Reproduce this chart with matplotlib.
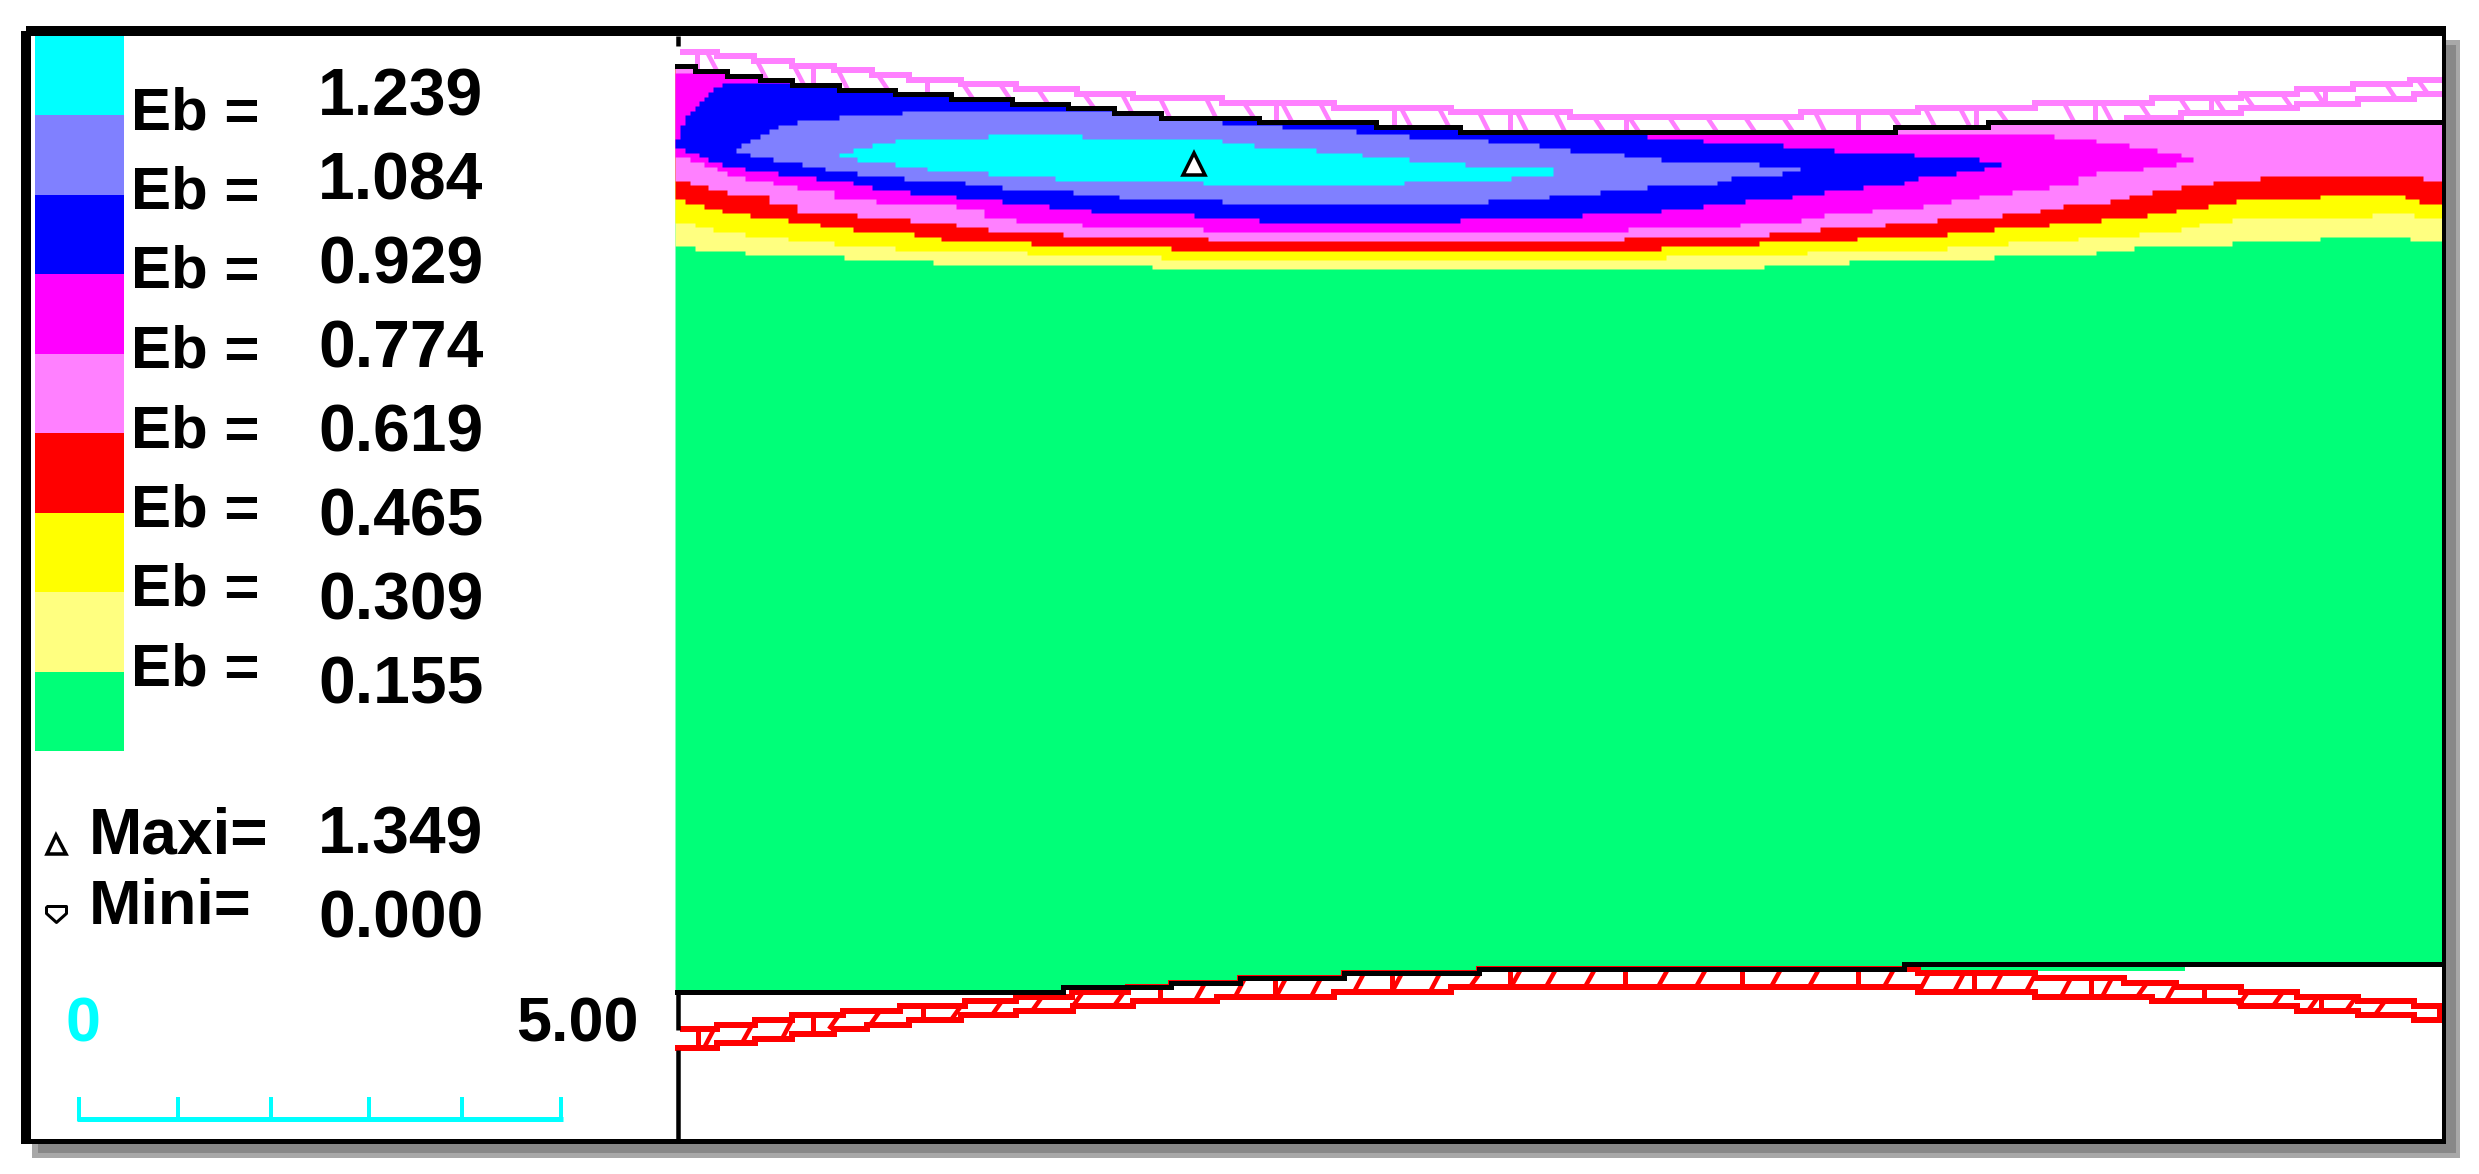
import numpy as np
import matplotlib
matplotlib.use('Agg')
import matplotlib.pyplot as plt
from matplotlib.patches import Rectangle

plt.rcParams['font.family'] = ['Liberation Sans', 'DejaVu Sans']

# legend
level_labels = ['1.239', '1.084', '0.929', '0.774', '0.619', '0.465', '0.309', '0.155']
level_colors = ['#00FFFF', '#8080FF', '#0000FF', '#FF00FF', '#FF80FF', '#FF0000', '#FFFF00', '#FFFF80', '#00FF78']
swatch_edges = [36, 115, 195, 274, 354, 433, 513, 592, 672, 751]
maxi_label = '1.349'
mini_label = '0.000'
scale_ticks = [79, 178, 271, 369, 462, 561]

# seam lines, picture coordinates
top_x = [675, 695, 727, 760, 792, 839, 895, 951, 1012, 1068, 1114, 1161, 1259, 1376, 1460, 1895, 1988, 2443]
top_y = [66, 71, 76, 80, 85, 90, 94, 99, 104, 108, 113, 118, 122, 127, 132, 127, 122]
bot_x = [675, 1063, 1171, 1240, 1344, 1479, 1904, 2443]
bot_y = [992, 987, 983, 978, 973, 969, 964]

# lower edge of each contour band
lyellow_x = [675, 695, 745, 844, 933, 1152, 1764, 1849, 1994, 2096, 2134, 2232, 2320, 2410, 2443]
lyellow_y = [246, 251, 255, 260, 265, 269, 265, 260, 255, 251, 246, 241, 237, 241]
yellow_x = [675, 695, 713, 745, 788, 834, 895, 1027, 1161, 1666, 1807, 1947, 2008, 2078, 2139, 2181, 2199, 2232, 2372, 2414, 2443]
yellow_y = [223, 227, 232, 237, 241, 246, 251, 255, 260, 255, 251, 246, 241, 237, 232, 227, 223, 218, 213, 218]
red_x = [675, 685, 704, 722, 750, 788, 820, 853, 914, 941, 1031, 1171, 1661, 1759, 1857, 1947, 1994, 2049, 2101, 2147, 2176, 2208, 2236, 2320, 2405, 2419, 2443]
red_y = [199, 204, 209, 213, 218, 223, 227, 232, 237, 241, 246, 251, 246, 241, 237, 232, 227, 223, 218, 213, 209, 204, 199, 195, 199, 204]
lpink_x = [675, 690, 708, 727, 769, 797, 857, 910, 956, 988, 1063, 1208, 1624, 1769, 1820, 1885, 1937, 2002, 2040, 2063, 2110, 2129, 2152, 2181, 2213, 2260, 2423, 2443]
lpink_y = [181, 185, 190, 195, 204, 213, 218, 223, 227, 232, 237, 241, 237, 232, 227, 223, 218, 213, 209, 204, 199, 195, 190, 185, 181, 176, 181]

# closed bands: upper and lower edge (0 = up to the seam line)
mag_up_x = [675, 695, 1895, 2054, 2096, 2129, 2157, 2181, 2194]
mag_up_y = [73, 0, 134, 139, 143, 148, 153, 157]
mag_lo_x = [675, 690, 704, 717, 727, 745, 773, 797, 834, 876, 956, 984, 1016, 1082, 1203, 1628, 1740, 1801, 1824, 1872, 1923, 1951, 1979, 2012, 2049, 2078, 2096, 2143, 2176, 2194]
mag_lo_y = [157, 162, 167, 171, 176, 181, 185, 190, 199, 204, 209, 218, 223, 227, 232, 227, 223, 218, 213, 209, 204, 199, 195, 190, 185, 176, 171, 167, 162]
blue_up_x = [675, 680, 685, 690, 695, 699, 704, 708, 713, 722, 792, 1647, 1703, 1783, 1834, 1914, 1979, 2002]
blue_up_y = [139, 125, 115, 111, 106, 101, 97, 92, 87, 83, 0, 139, 143, 148, 153, 157, 162]
blue_lo_x = [675, 685, 699, 708, 722, 745, 778, 816, 853, 872, 910, 956, 1002, 1049, 1091, 1194, 1259, 1460, 1582, 1661, 1703, 1745, 1792, 1824, 1863, 1904, 1918, 1956, 1984, 2002]
blue_lo_y = [148, 153, 157, 162, 167, 171, 176, 181, 185, 190, 195, 199, 204, 209, 213, 218, 223, 218, 213, 209, 204, 199, 195, 190, 185, 181, 176, 171, 167]
peri_up_x = [736, 741, 750, 760, 769, 778, 797, 839, 902, 1114, 1161, 1222, 1282, 1356, 1409, 1488, 1539, 1570, 1624, 1661, 1759, 1801]
peri_up_y = [148, 143, 139, 134, 129, 125, 120, 115, 111, 115, 120, 125, 129, 134, 139, 143, 148, 153, 157, 162, 167]
peri_lo_x = [736, 750, 773, 802, 825, 857, 904, 965, 1002, 1073, 1119, 1222, 1488, 1549, 1600, 1647, 1717, 1731, 1782, 1801]
peri_lo_y = [153, 157, 162, 167, 171, 176, 181, 185, 190, 195, 199, 204, 199, 195, 190, 185, 181, 176, 171]
cyan_up_x = [839, 853, 872, 895, 988, 1082, 1222, 1254, 1316, 1362, 1409, 1465, 1554]
cyan_up_y = [153, 148, 143, 139, 134, 139, 143, 148, 153, 157, 162, 167]
cyan_lo_x = [839, 857, 895, 927, 988, 1055, 1203, 1404, 1511, 1554]
cyan_lo_y = [157, 162, 167, 171, 176, 181, 185, 181, 176]

# hatched layers above and below the seam
pink_up_x = [680, 717, 754, 792, 834, 872, 909, 961, 1016, 1077, 1133, 1222, 1334, 1451, 1570, 1801, 1918, 2035, 2152, 2241, 2297, 2353, 2410, 2443]
pink_up_y = [52, 56, 61, 66, 70, 75, 80, 84, 89, 94, 98, 103, 108, 112, 117, 112, 108, 103, 98, 94, 89, 84, 80]
pink_lo_x = [2124, 2181, 2241, 2297, 2358, 2414, 2443]
pink_lo_y = [118, 113, 108, 104, 99, 94]
pink_bars = [697, 813, 927, 1276, 1394, 1510, 1626, 1858, 1976, 2095, 2211, 2325]
pink_diag = [712, 762, 799, 843, 883, 968, 1005, 1043, 1089, 1127, 1165, 1211, 1249, 1287, 1325, 1406, 1444, 1484, 1522, 1560,
             1599, 1634, 1674, 1712, 1750, 1788, 1820, 1895, 1930, 1965, 2002, 2069, 2107, 2145, 2185, 2220, 2249, 2287, 2319, 2391, 2423]
red_up_x = [680, 717, 755, 792, 843, 900, 965, 1016, 1072, 1128, 1171, 1240, 1344, 1479, 1904, 1918, 2035, 2124, 2176, 2241, 2297, 2358, 2414, 2443]
red_up_y = [1029, 1025, 1020, 1015, 1011, 1006, 1001, 997, 992, 987, 983, 978, 973, 969, 969, 973, 978, 983, 987, 992, 997, 1001, 1006]
red_lo_x = [675, 717, 755, 792, 834, 867, 909, 961, 1016, 1073, 1133, 1217, 1334, 1451, 1918, 2035, 2152, 2241, 2297, 2358, 2414, 2443]
red_lo_y = [1048, 1043, 1039, 1034, 1029, 1025, 1020, 1015, 1011, 1006, 1001, 997, 992, 987, 992, 997, 1001, 1006, 1011, 1015, 1020]
red_bars = [698, 813, 923, 1160, 1275, 1392, 1510, 1625, 1742, 1858, 1974, 2091, 2204, 2321, 2439]
red_diag = [709, 747, 787, 834, 875, 956, 997, 1037, 1078, 1119, 1200, 1240, 1281, 1316, 1359, 1397, 1435, 1475, 1516, 1551,
            1590, 1663, 1701, 1776, 1814, 1889, 1924, 1959, 1997, 2031, 2066, 2107, 2142, 2171, 2243, 2278, 2313, 2351, 2380]

PX = 0.72  # points per pixel at dpi 100
xs = np.arange(675, 2443)


def step_val(edges, vals, x):
    """Значение ступенчатой линии в точках x."""
    idx = np.searchsorted(edges, x, side='right') - 1
    return np.array(vals)[np.clip(idx, 0, len(vals) - 1)]


def box(ax, x0, y0, x1, y1, color, z=1):
    ax.add_patch(Rectangle((x0, y0), x1 - x0, y1 - y0, facecolor=color, edgecolor='none', zorder=z))


fig = plt.figure(figsize=(24.79, 11.74), dpi=100, facecolor='white')
ax = fig.add_axes([0, 0, 1, 1])
ax.set_xlim(0, 2479)
ax.set_ylim(1174, 0)
ax.axis('off')

# shadow and panel
box(ax, 32, 40, 2460, 1158, '#A8A8A8', 0)
box(ax, 38, 45, 2456, 1153, '#888888', 0.1)
box(ax, 21, 26, 2446, 1144, 'white', 0.2)

# contour bands
seam = step_val(top_x, top_y, xs)
floor = step_val(bot_x, bot_y, xs)
ax.fill_between(xs, seam, floor, step='post', color=level_colors[8], lw=0, antialiased=False, zorder=1)
open_bands = [(lyellow_x, lyellow_y, 7), (yellow_x, yellow_y, 6), (red_x, red_y, 5), (lpink_x, lpink_y, 4)]
for bx, by, ci in open_bands:
    ax.fill_between(xs, seam, step_val(bx, by, xs), step='post', color=level_colors[ci], lw=0, antialiased=False, zorder=1)
closed_bands = [(mag_up_x, mag_up_y, mag_lo_x, mag_lo_y, 3), (blue_up_x, blue_up_y, blue_lo_x, blue_lo_y, 2),
                (peri_up_x, peri_up_y, peri_lo_x, peri_lo_y, 1), (cyan_up_x, cyan_up_y, cyan_lo_x, cyan_lo_y, 0)]
for ux, uy, lx, ly, ci in closed_bands:
    inside = (xs >= ux[0]) & (xs < ux[-1])
    upper = np.maximum(seam, step_val(ux, uy, xs))
    ax.fill_between(xs, upper, step_val(lx, ly, xs), where=inside, step='post', color=level_colors[ci], lw=0,
                    antialiased=False, zorder=1)
box(ax, 1918, 967, 2185, 971, level_colors[8], 1.5)

# hatching
hatch_lw = 5.5 * PX
pink = level_colors[4]
red = level_colors[5]
ax.stairs(pink_up_y, pink_up_x, baseline=None, color=pink, lw=hatch_lw, antialiased=False, zorder=2)
ax.stairs(pink_lo_y, pink_lo_x, baseline=None, color=pink, lw=hatch_lw, antialiased=False, zorder=2)
ax.stairs(red_up_y, red_up_x, baseline=None, color=red, lw=hatch_lw, antialiased=False, zorder=2)
ax.stairs(red_lo_y, red_lo_x, baseline=None, color=red, lw=hatch_lw, antialiased=False, zorder=2)


def pink_floor(x):
    x = np.asarray(x)
    return np.where(x < pink_lo_x[0], step_val(top_x, top_y, x), step_val(pink_lo_x, pink_lo_y, x))


ax.vlines(pink_bars, step_val(pink_up_x, pink_up_y, np.array(pink_bars)), pink_floor(pink_bars), color=pink, lw=5 * PX, zorder=2)
ax.vlines(red_bars, step_val(red_up_x, red_up_y, np.array(red_bars)), step_val(red_lo_x, red_lo_y, np.array(red_bars)), color=red, lw=5 * PX, zorder=2)
for x in pink_diag:
    ax.plot([x - 5, x + 5], [step_val(pink_up_x, pink_up_y, np.array([x]))[0], pink_floor([x])[0]],
            color=pink, lw=4.5 * PX, solid_capstyle='butt', zorder=2)
for x in red_diag:
    ax.plot([x + 5, x - 5], [step_val(red_up_x, red_up_y, np.array([x]))[0], step_val(red_lo_x, red_lo_y, np.array([x]))[0]],
            color=red, lw=4.5 * PX, solid_capstyle='butt', zorder=2)

# seam lines and left axis
ax.stairs(top_y, top_x, baseline=None, color='black', lw=5 * PX, antialiased=False, zorder=3)
ax.stairs(bot_y, bot_x, baseline=None, color='black', lw=5 * PX, antialiased=False, zorder=3)
ax.vlines([677.5, 677.5, 677.5], [36, 992, 1050], [46, 1030, 1140], color='black', lw=4.5 * PX, zorder=3)

# frame
box(ax, 26, 26, 2446, 36, 'black', 4)
box(ax, 21, 31, 31, 1144, 'black', 4)
box(ax, 21, 1139, 2446, 1144, 'black', 4)
box(ax, 2442, 26, 2446, 1144, 'black', 4)

# legend swatches
ax.bar([79.5] * 9, np.diff(swatch_edges), width=89, bottom=swatch_edges[:-1], color=level_colors, lw=0, zorder=2)
for i, lab in enumerate(level_labels):
    ax.text(131, 129 + i * 79.5, 'Eb =', fontsize=60 * PX, fontweight='bold', ha='left', va='baseline', color='black', zorder=5)
    ax.text(318, 116 + i * 84, lab, fontsize=66 * PX, fontweight='bold', ha='left', va='baseline', color='black', zorder=5)

# max / min
ax.text(89, 854, 'Maxi=', fontsize=64 * PX, fontweight='bold', ha='left', va='baseline', zorder=5)
ax.text(89, 924, 'Mini=', fontsize=63 * PX, fontweight='bold', ha='left', va='baseline', zorder=5)
ax.text(318, 854, maxi_label, fontsize=66 * PX, fontweight='bold', ha='left', va='baseline', zorder=5)
ax.text(318, 938, mini_label, fontsize=66 * PX, fontweight='bold', ha='left', va='baseline', zorder=5)
tri = dict(marker='^', mfc='white', mec='black', mew=3.5 * PX, ls='none', zorder=5)
ax.plot([56], [844], ms=19 * PX, **tri)
ax.plot([1194], [164], ms=23 * PX, **tri)
ax.plot([56], [912], marker=[(-1, 0.6), (1, 0.6), (1, -0.1), (0, -1), (-1, -0.1), (-1, 0.6)], ms=20 * PX, mfc='white',
        mec='black', mew=3 * PX, ls='none', zorder=5)

# scale bar
ax.text(65, 1041, '0', fontsize=63 * PX, fontweight='bold', color='#00FFFF', ha='left', va='baseline', zorder=5)
ax.text(516, 1041, '5.00', fontsize=63 * PX, fontweight='bold', color='black', ha='left', va='baseline', zorder=5)
ax.hlines(1118.5, scale_ticks[0] - 2, scale_ticks[-1] + 2, color='#00FFFF', lw=5 * PX, zorder=5)
ax.vlines(scale_ticks, 1097, 1121, color='#00FFFF', lw=4 * PX, zorder=5)

fig.savefig('out.png', dpi=100, facecolor='white')
